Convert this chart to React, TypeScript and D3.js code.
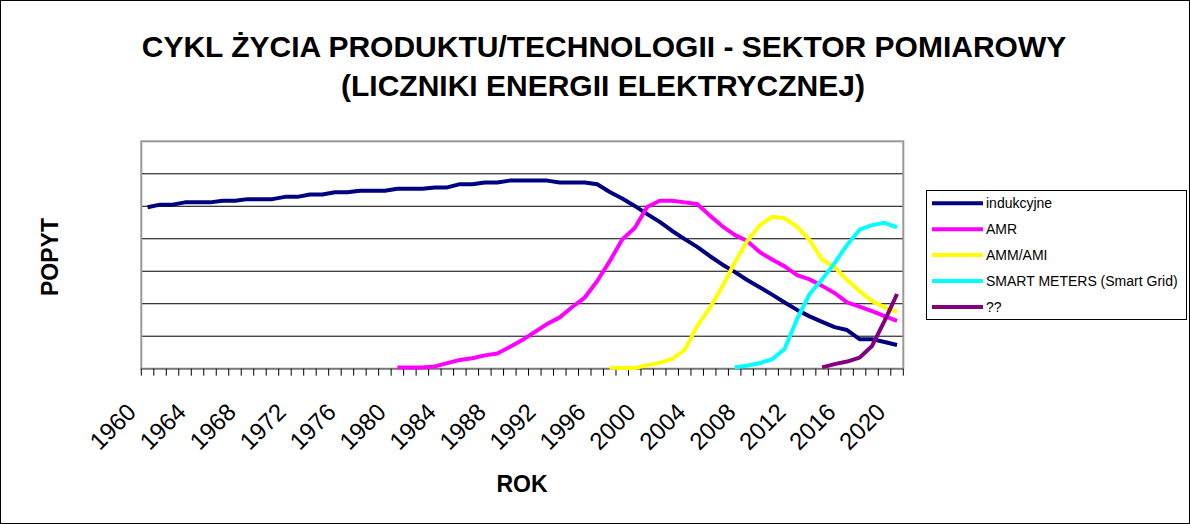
import React from 'react';
import * as d3 from 'd3';

// categories (one per year)
const years = [
  1960, 1961, 1962, 1963, 1964, 1965, 1966, 1967, 1968, 1969,
  1970, 1971, 1972, 1973, 1974, 1975, 1976, 1977, 1978, 1979,
  1980, 1981, 1982, 1983, 1984, 1985, 1986, 1987, 1988, 1989,
  1990, 1991, 1992, 1993, 1994, 1995, 1996, 1997, 1998, 1999,
  2000, 2001, 2002, 2003, 2004, 2005, 2006, 2007, 2008, 2009,
  2010, 2011, 2012, 2013, 2014, 2015, 2016, 2017, 2018, 2019, 2020,
];
const tickLabels = [1960, 1964, 1968, 1972, 1976, 1980, 1984, 1988, 1992, 1996, 2000, 2004, 2008, 2012, 2016, 2020];

// series values, each starting at its first year
const indukcyjneStart = 1960;
const indukcyjne = [
  49.7, 50.5, 50.5, 51.2, 51.2, 51.2, 51.7, 51.7, 52.2, 52.2,
  52.2, 52.9, 52.9, 53.6, 53.6, 54.3, 54.3, 54.8, 54.8, 54.8,
  55.4, 55.4, 55.4, 55.8, 55.8, 56.8, 56.8, 57.3, 57.3, 57.9,
  57.9, 57.9, 57.9, 57.3, 57.3, 57.3, 56.8, 54.4, 52.4, 50.1,
  47.6, 45.2, 42.4, 39.9, 37.5, 34.7, 32.1, 29.8, 27.3, 25.1,
  22.8, 20.4, 18.1, 16.1, 14.4, 12.8, 11.9, 9.1, 9.1, 8.2, 7.3,
];
const amrStart = 1980;
const amr = [
  0.4, 0.4, 0.4, 0.7, 1.7, 2.7, 3.2, 4.1, 4.7, 6.7,
  8.8, 11.3, 13.8, 15.8, 19.0, 21.9, 27.0, 33.1, 39.8, 43.3,
  49.8, 51.7, 51.7, 51.2, 50.7, 47.2, 43.9, 41.2, 39.3, 35.9,
  33.6, 31.5, 28.8, 27.5, 25.5, 23.3, 20.4, 19.1, 17.7, 16.2, 14.7,
];
const ammAmiStart = 1997;
const ammAmi = [
  0.3, 0.2, 0.2, 1.1, 1.8, 3.0, 5.8, 13.1, 18.7, 25.2,
  32.6, 39.3, 44.1, 46.8, 46.3, 43.7, 39.6, 33.6, 31.3, 27.3,
  23.9, 20.8, 18.9, 17.5,
];
const smartStart = 2007;
const smartMeters = [0.4, 1.0, 1.7, 2.9, 6.1, 15.3, 23.0, 27.5, 32.5, 38.1, 42.8, 44.2, 44.9, 43.5];
const unknownStart = 2014;
const unknown = [0.4, 1.4, 2.2, 3.4, 7.0, 14.7, 23.0];

const seriesNames = ['indukcyjne', 'AMR', 'AMM/AMI', 'SMART METERS (Smart Grid)', '??'];
const seriesColors = ['#000080', '#FF00FF', '#FFFF00', '#00FFFF', '#800080'];

const W = 1190;
const H = 524;
const font = "Arial, 'Liberation Sans', Helvetica, sans-serif";
const plot = { left: 141.3, right: 903.3, top: 141.3, bottom: 368.7 };

export default function App() {
  const x = d3.scaleBand<number>().domain(years).range([plot.left, plot.right]).padding(0);
  const y = d3.scaleLinear().domain([0, 70]).range([plot.bottom, plot.top]);
  const cx = (yr: number) => (x(yr) as number) + x.bandwidth() / 2;

  const series = [
    { start: indukcyjneStart, values: indukcyjne },
    { start: amrStart, values: amr },
    { start: ammAmiStart, values: ammAmi },
    { start: smartStart, values: smartMeters },
    { start: unknownStart, values: unknown },
  ].map((s, i) => ({
    name: seriesNames[i],
    color: seriesColors[i],
    points: s.values.map((v, k) => [s.start + k, v] as [number, number]),
  }));

  const line = d3
    .line<[number, number]>()
    .x((d) => cx(d[0]))
    .y((d) => y(d[1]));

  const gridValues = y.ticks(7).filter((v) => v > 0 && v < 70);
  const tickXs = years.map((yr) => x(yr) as number).concat([plot.right]);

  const legend = { x: 926, y: 190, w: 260, h: 129 };

  return (
    <svg
      width={W}
      height={H}
      style={{ position: 'absolute', left: 0, top: 0, background: '#fff' }}
      fontFamily={font}
    >
      <rect x={0.5} y={0.5} width={W - 1} height={H - 1} fill="#fff" stroke="#000" />

      {/* title */}
      <text x={604} y={57} textAnchor="middle" fontSize={30} fontWeight="bold">
        CYKL ŻYCIA PRODUKTU/TECHNOLOGII - SEKTOR POMIAROWY
      </text>
      <text x={603} y={96} textAnchor="middle" fontSize={30} fontWeight="bold">
        (LICZNIKI ENERGII ELEKTRYCZNEJ)
      </text>

      {/* grid */}
      {gridValues.map((v) => (
        <line key={v} x1={plot.left} x2={plot.right} y1={y(v)} y2={y(v)} stroke="#000" strokeWidth={1} />
      ))}
      <rect
        x={plot.left}
        y={plot.top}
        width={plot.right - plot.left}
        height={plot.bottom - plot.top}
        fill="none"
        stroke="#999"
        strokeWidth={2}
      />
      <line x1={plot.left} x2={plot.right} y1={plot.bottom} y2={plot.bottom} stroke="#777" strokeWidth={1.5} />

      {/* x ticks */}
      {tickXs.map((tx, i) => (
        <line key={i} x1={tx} x2={tx} y1={plot.bottom} y2={plot.bottom + 7} stroke="#000" strokeWidth={1} />
      ))}
      {tickLabels.map((yr) => {
        const ax = cx(yr) - 10;
        const ay = 413.5;
        return (
          <text key={yr} x={ax} y={ay} fontSize={24} textAnchor="end" transform={`rotate(-45 ${ax} ${ay})`}>
            {yr}
          </text>
        );
      })}

      {/* lines */}
      {series.map((s) => (
        <path
          key={s.name}
          d={line(s.points) || ''}
          fill="none"
          stroke={s.color}
          strokeWidth={4}
          strokeLinejoin="round"
        />
      ))}

      {/* axis titles */}
      <text x={522} y={492} textAnchor="middle" fontSize={23} fontWeight="bold">
        ROK
      </text>
      <text
        x={0}
        y={0}
        textAnchor="middle"
        fontSize={23}
        fontWeight="bold"
        transform="translate(58 257) rotate(-90)"
      >
        POPYT
      </text>

      {/* legend */}
      <rect x={legend.x + 0.5} y={legend.y + 0.5} width={legend.w} height={legend.h} fill="#fff" stroke="#000" />
      {series.map((s, i) => {
        const ly = 203.3 + i * 25.9;
        return (
          <g key={s.name}>
            <line x1={932} x2={983} y1={ly} y2={ly} stroke={s.color} strokeWidth={4} />
            <text x={986} y={ly + 5} fontSize={14}>
              {s.name}
            </text>
          </g>
        );
      })}
    </svg>
  );
}
